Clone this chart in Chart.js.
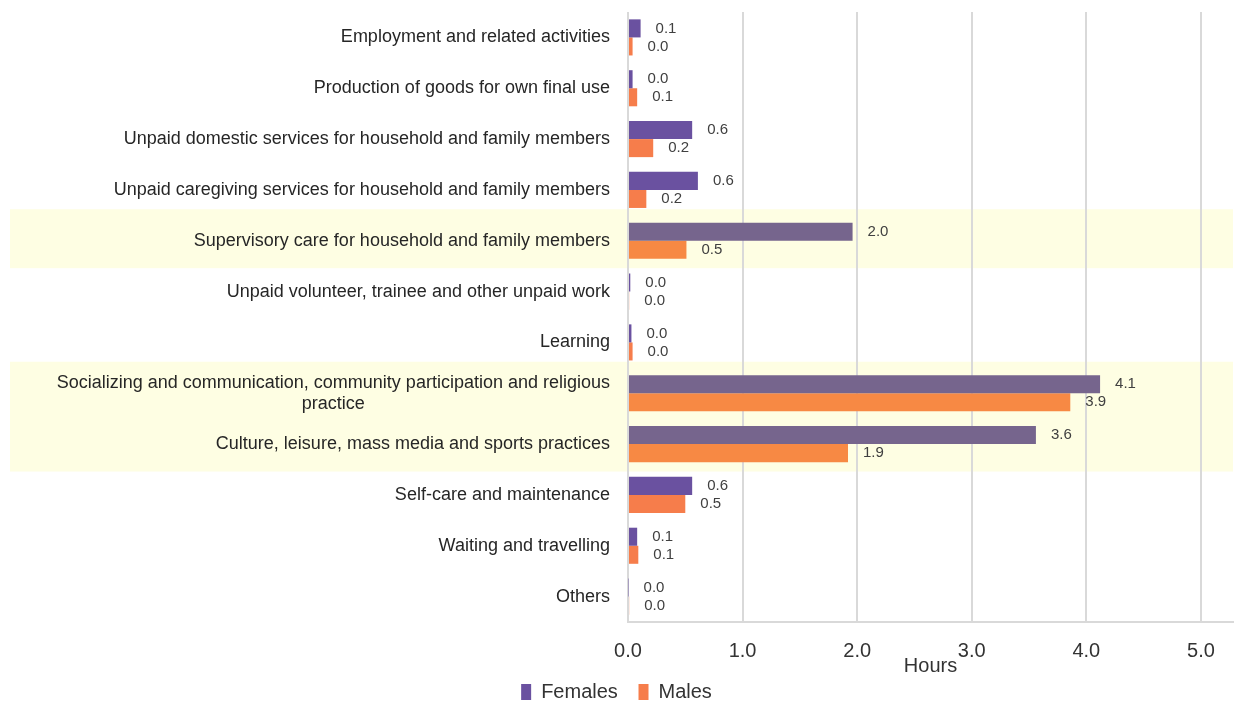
<!DOCTYPE html>
<html>
<head>
<meta charset="utf-8">
<title>Time use by activity</title>
<script src="https://cdn.jsdelivr.net/npm/chart.js@4"></script>
<style>
  html, body { margin: 0; padding: 0; background: #fff; }
  #wrap { width: 1235px; height: 701px; }
</style>
</head>
<body>
<div id="wrap"><canvas id="timeChart" width="1235" height="701"></canvas></div>
<script>
// Activités (libellés de l'axe vertical)
const categories = [
    'Employment and related activities',
    'Production of goods for own final use',
    'Unpaid domestic services for household and family members',
    'Unpaid caregiving services for household and family members',
    'Supervisory care for household and family members',
    'Unpaid volunteer, trainee and other unpaid work',
    'Learning',
    ['Socializing and communication, community participation and religious', 'practice'],
    'Culture, leisure, mass media and sports practices',
    'Self-care and maintenance',
    'Waiting and travelling',
    'Others'
];

// Heures par jour
const females = [0.11, 0.04, 0.56, 0.61, 1.96, 0.02, 0.03, 4.12, 3.56, 0.56, 0.08, 0.005];
const males   = [0.04, 0.08, 0.22, 0.16, 0.51, 0.01, 0.04, 3.86, 1.92, 0.50, 0.09, 0.01];

const xTicks = [0, 1, 2, 3, 4, 5];
const highlighted = [4, 7, 8]; // lignes surlignées

const FONT = "'Liberation Sans', Arial, sans-serif";

// Bandes jaunes derrière les lignes surlignées
const bandPlugin = {
    id: 'bands',
    beforeDraw(chart) {
        const { ctx, scales: { y }, chartArea } = chart;
        const step = y.getPixelForValue(1) - y.getPixelForValue(0);
        ctx.save();
        ctx.fillStyle = '#FEFEE3';
        let i = 0;
        while (i < highlighted.length) {
            let j = i;
            while (j + 1 < highlighted.length && highlighted[j + 1] === highlighted[j] + 1) j++;
            const top = y.getPixelForValue(highlighted[i]) - step * 0.62;
            const bottom = y.getPixelForValue(highlighted[j]) + step * 0.54;
            ctx.fillRect(10, top, chartArea.right - 10, bottom - top);
            i = j + 1;
        }
        ctx.restore();
    }
};

// Libellés des catégories (lignes centrées entre elles, bloc aligné à droite)
const categoryLabels = {
    id: 'categoryLabels',
    afterDraw(chart) {
        const { ctx, scales: { y } } = chart;
        const right = y.right - 18;
        const lineH = 21;
        ctx.save();
        ctx.font = `18px ${FONT}`;
        ctx.fillStyle = '#262626';
        ctx.textBaseline = 'middle';
        ctx.textAlign = 'center';
        categories.forEach((label, i) => {
            const lines = Array.isArray(label) ? label : [label];
            const w = Math.max(...lines.map(l => ctx.measureText(l).width));
            const cx = right - w / 2;
            const cy = y.getPixelForValue(i);
            lines.forEach((l, k) => {
                ctx.fillText(l, cx, cy + (k - (lines.length - 1) / 2) * lineH);
            });
        });
        ctx.restore();
    }
};

// Valeurs à droite des barres
const valueLabels = {
    id: 'valueLabels',
    afterDatasetsDraw(chart) {
        const { ctx } = chart;
        ctx.save();
        ctx.font = `15px ${FONT}`;
        ctx.fillStyle = '#404040';
        ctx.textAlign = 'left';
        ctx.textBaseline = 'middle';
        chart.data.datasets.forEach((ds, d) => {
            chart.getDatasetMeta(d).data.forEach((bar, i) => {
                ctx.fillText(ds.data[i].toFixed(1), bar.x + 15, bar.y);
            });
        });
        ctx.restore();
    }
};

const pick = (normal, hl) => c => highlighted.includes(c.dataIndex) ? hl : normal;

new Chart(document.getElementById('timeChart'), {
    type: 'bar',
    data: {
        labels: categories,
        datasets: [
            {
                label: 'Females',
                data: females,
                backgroundColor: pick('#6A51A0', '#76658D'),
                categoryPercentage: 0.71,
                barPercentage: 1
            },
            {
                label: 'Males',
                data: males,
                backgroundColor: pick('#F67D4B', '#F78944'),
                categoryPercentage: 0.71,
                barPercentage: 1
            }
        ]
    },
    options: {
        indexAxis: 'y',
        responsive: false,
        animation: false,
        layout: { padding: { top: 12, right: 2, left: 0, bottom: -11 } },
        scales: {
            x: {
                min: 0,
                max: 5.28,
                afterBuildTicks: scale => { scale.ticks = xTicks.map(v => ({ value: v })); },
                ticks: {
                    callback: v => Number(v).toFixed(1),
                    font: { family: FONT, size: 20 },
                    color: '#333',
                    padding: 17
                },
                grid: { color: '#D9D9D9', lineWidth: 2, drawTicks: false },
                border: { display: true, color: '#D9D9D9', width: 2 },
                title: {
                    display: true,
                    text: 'Hours',
                    font: { family: FONT, size: 20 },
                    color: '#333',
                    padding: { top: -26, bottom: 0 }
                }
            },
            y: {
                ticks: { display: false },
                grid: { display: false },
                border: { display: false },
                afterFit: scale => { scale.width = 628; }
            }
        },
        plugins: {
            legend: {
                position: 'bottom',
                labels: {
                    font: { family: FONT, size: 20 },
                    color: '#333',
                    boxWidth: 10,
                    boxHeight: 16,
                    padding: 4,
                    useBorderRadius: false,
                    // un peu d'air après la première entrée
                    generateLabels: chart => Chart.defaults.plugins.legend.labels
                        .generateLabels(chart)
                        .map((item, i) => ({ ...item, text: i === 0 ? item.text + '   ' : item.text }))
                }
            },
            tooltip: { enabled: false }
        }
    },
    plugins: [bandPlugin, categoryLabels, valueLabels]
});
</script>
</body>
</html>
